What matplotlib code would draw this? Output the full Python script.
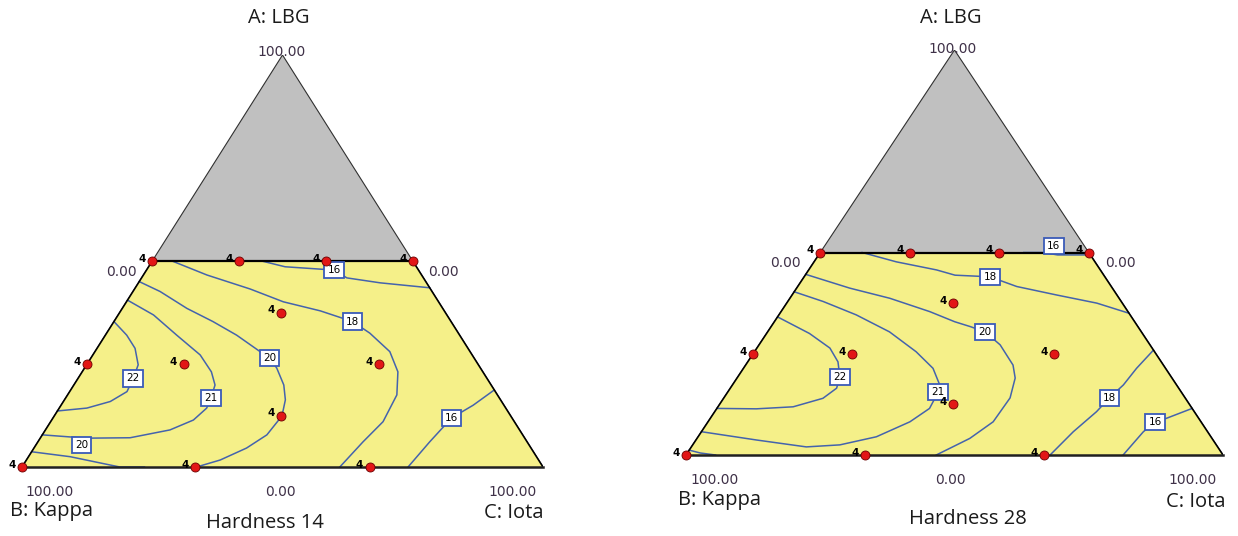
import numpy as np
import matplotlib.pyplot as plt
from matplotlib.patches import Polygon

plt.rcParams['font.family'] = ['Open Sans', 'DejaVu Sans']

W_PX, H_PX = 1238, 536

# mixture design (A: LBG and C: Iota in %, B: Kappa is the rest), 4 replicates each
design_a = [50, 50, 50, 50, 25, 25, 25, 37.5, 12.5, 0, 0, 0]
design_c = [0, 16.7, 33.3, 50, 0, 18.5, 56, 31, 43.5, 0, 33.3, 66.7]
design_reps = [4, 4, 4, 4, 4, 4, 4, 4, 4, 4, 4, 4]

# ---- Hardness 14: contour lines as (A %, C %) paths ----
h14_22_a = [35.3, 32.0, 28.8, 24.8, 21.5, 18.3, 15.9, 14.3, 13.6]
h14_22_c = [0, 4.1, 7.3, 9.9, 10.6, 11.0, 9.0, 5.3, 0]
h14_21_a = [40.5, 36.9, 32.0, 27.2, 23.1, 19.9, 16.7, 14.3, 11.4, 9.0, 7.1, 7.0, 7.8]
h14_21_c = [0, 6.8, 13.7, 20.6, 24.8, 27.1, 27.9, 28.3, 27.2, 23.9, 17.2, 8.9, 0]
h14_20a_a = [45.0, 42.6, 38.5, 35.3, 32.0, 28.0, 26.5, 24.0, 19.9, 16.3, 12.4, 7.8, 4.6, 1.7, 0]
h14_20a_c = [0, 5.2, 12.4, 19.0, 25.2, 31.7, 34.3, 36.9, 40.3, 42.4, 43.7, 43.1, 40.8, 37.2, 33.5]
h14_20b_a = [3.7, 2.5, 0.5, 0, 0]
h14_20b_c = [0, 8.0, 16.6, 18.8, 23.5]
h14_18_a = [50, 46.6, 43.2, 40.1, 37.9, 35.3, 32.5, 28.0, 23.1, 17.5, 11.0, 6.1, 0]
h14_18_c = [3.8, 12.2, 22.2, 30.1, 38.3, 45.8, 50.5, 56.6, 60.6, 63.2, 63.8, 62.4, 61.0]
h14_16a_a = [50, 48.6, 47.8, 45.9, 44.7, 43.5]
h14_16a_c = [21.0, 26.2, 36.0, 39.4, 46.4, 56.5]
h14_16b_a = [18.7, 15.0, 11.9, 6.1, 0]
h14_16b_c = [81.3, 79.1, 76.5, 75.2, 74.1]

h14_label_text = ['22', '21', '20', '20', '18', '16', '16']
h14_label_a = [21.5, 16.7, 26.5, 5.3, 35.3, 47.8, 11.9]
h14_label_c = [10.6, 27.9, 34.3, 8.8, 45.8, 36.0, 76.5]

# ---- Hardness 28 ----
h28_22_a = [34.1, 30.0, 26.4, 23.0, 19.3, 16.5, 14.0, 11.9, 11.4, 11.5]
h28_22_c = [0, 8.0, 13.6, 16.8, 19.0, 19.8, 18.5, 14.0, 7.4, 0]
h28_21_a = [40.3, 37.9, 34.6, 30.4, 25.5, 21.4, 17.3, 15.5, 11.5, 8.2, 4.5, 2.5, 2.0, 3.7, 5.75]
h28_21_c = [0, 6.6, 14.4, 22.7, 30.1, 35.3, 38.6, 39.2, 39.6, 37.6, 33.2, 27.4, 21.4, 11.3, 0]
h28_20a_a = [44.6, 41.2, 38.7, 35.4, 32.9, 31.7, 30.4, 27.2, 22.2, 19.0, 14.1, 8.2, 4.1, 1.65, 0]
h28_20a_c = [0, 9.9, 18.6, 27.7, 33.6, 37.1, 40.5, 44.9, 49.8, 51.8, 53.3, 53.1, 50.8, 48.3, 46.6]
h28_20b_a = [1.2, 0.5, 0]
h28_20b_c = [0, 2.4, 5.5]
h28_18a_a = [50, 47.7, 45.7, 44.4, 44.0, 41.6, 39.5, 37.5, 35.0]
h28_18a_c = [7.8, 15.3, 23.8, 27.9, 34.6, 40.8, 49.3, 57.75, 65.0]
h28_18b_a = [25.9, 21.4, 17.3, 14.15, 10.7, 5.75, 0]
h28_18b_c = [74.1, 73.2, 72.8, 71.8, 71.1, 69.25, 67.8]
h28_16a_a = [50, 50, 49.4, 49.4, 49.4]
h28_16a_c = [37.9, 41.5, 44.5, 48.0, 50.6]
h28_16b_a = [11.5, 9.1, 8.1, 5.75, 0]
h28_16b_c = [88.5, 85.0, 83.3, 82.3, 81.4]

h28_label_text = ['22', '21', '20', '18', '16', '18', '16']
h28_label_a = [19.3, 15.5, 30.4, 44.0, 51.6, 14.15, 8.1]
h28_label_c = [19.0, 39.2, 40.5, 34.6, 42.7, 71.8, 83.3]

LINE_BLUE = '#4463ad'
YELLOW = '#f5f089'
GREY = '#c0c0c0'
TICK_COLOR = '#3f3148'


def tern_xy(a, c):
    # A at the apex, B bottom left, C bottom right
    a = np.asarray(a, dtype=float) / 100.0
    c = np.asarray(c, dtype=float) / 100.0
    return c + a / 2.0, a


def draw_panel(ax, contours, lab_text, lab_a, lab_c):
    ax.set_xlim(0, 1)
    ax.set_ylim(0, 1)
    ax.axis('off')

    # whole simplex in grey, constrained region (A <= 50) in yellow
    tx, ty = tern_xy([100, 0, 0], [0, 0, 100])
    ax.add_patch(Polygon(np.column_stack([tx, ty]), closed=True, facecolor=GREY,
                         edgecolor='#303030', linewidth=0.8, zorder=1))
    rx, ry = tern_xy([0, 0, 50, 50], [0, 100, 50, 0])
    ax.add_patch(Polygon(np.column_stack([rx, ry]), closed=True, facecolor=YELLOW,
                         edgecolor='none', zorder=2))

    for ca, cc in contours:
        x, y = tern_xy(ca, cc)
        ax.plot(x, y, color=LINE_BLUE, linewidth=1.1, zorder=3, clip_on=False,
                solid_joinstyle='round')

    # region outline
    ex, ey = tern_xy([50, 0], [0, 0])
    ax.plot(ex, ey, color='black', linewidth=1.2, zorder=4)
    ex, ey = tern_xy([50, 0], [50, 100])
    ax.plot(ex, ey, color='black', linewidth=1.2, zorder=4)
    ex, ey = tern_xy([50, 50], [0, 50])
    ax.plot(ex, ey, color='black', linewidth=1.6, zorder=4)
    ex, ey = tern_xy([0, 0], [0, 100])
    ax.plot(ex, ey, color='#202020', linewidth=1.8, zorder=4, clip_on=False)

    for s, la, lc in zip(lab_text, lab_a, lab_c):
        x, y = tern_xy(la, lc)
        ax.text(x, y, s, ha='center', va='center', fontsize=7.5, color='black',
                family='DejaVu Sans', zorder=6,
                bbox=dict(boxstyle='square,pad=0.3', facecolor='white',
                          edgecolor='#3a5bb8', linewidth=1.3))

    px, py = tern_xy(design_a, design_c)
    ax.plot(px, py, 'o', markersize=6.5, markerfacecolor='#e21616',
            markeredgecolor='#6a0000', markeredgewidth=0.6, zorder=7, clip_on=False)
    for x, y, n in zip(px, py, design_reps):
        ax.annotate(str(n), (x, y), xytext=(-7.2, 1.6), textcoords='offset points',
                    ha='center', va='center', fontsize=7.5, fontweight='bold',
                    family='DejaVu Sans', color='black', zorder=8, annotation_clip=False)


fig = plt.figure(figsize=(W_PX / 100, H_PX / 100), dpi=100)


def put(px, py, s, **kw):
    fig.text(px / W_PX, 1 - py / H_PX, s, ha='center', va='center', **kw)


def axes_from_px(left, right, base, apex):
    return fig.add_axes([left / W_PX, 1 - base / H_PX, (right - left) / W_PX, (base - apex) / H_PX])


ax1 = axes_from_px(22, 543, 467, 55)
draw_panel(ax1,
           [(h14_22_a, h14_22_c), (h14_21_a, h14_21_c), (h14_20a_a, h14_20a_c),
            (h14_20b_a, h14_20b_c), (h14_18_a, h14_18_c), (h14_16a_a, h14_16a_c),
            (h14_16b_a, h14_16b_c)],
           h14_label_text, h14_label_a, h14_label_c)

ax2 = axes_from_px(686, 1223, 455, 50)
draw_panel(ax2,
           [(h28_22_a, h28_22_c), (h28_21_a, h28_21_c), (h28_20a_a, h28_20a_c),
            (h28_20b_a, h28_20b_c), (h28_18a_a, h28_18a_c), (h28_18b_a, h28_18b_c),
            (h28_16a_a, h28_16a_c), (h28_16b_a, h28_16b_c)],
           h28_label_text, h28_label_a, h28_label_c)

big = dict(fontsize=14.5, color='#1a1a1a')
tick = dict(fontsize=10, color=TICK_COLOR, family='DejaVu Sans')

# left plot texts
put(279, 18, 'A: LBG', **big)
put(282, 52, '100.00', **tick)
put(121, 272, '0.00', **tick)
put(443, 272, '0.00', **tick)
put(50, 492, '100.00', **tick)
put(280, 492, '0.00', **tick)
put(513, 492, '100.00', **tick)
put(51, 511, 'B: Kappa', **big)
put(514, 513, 'C: Iota', **big)
put(265, 523, 'Hardness 14', **big)

# right plot texts
put(951, 18, 'A: LBG', **big)
put(953, 49, '100.00', **tick)
put(785, 263, '0.00', **tick)
put(1120, 263, '0.00', **tick)
put(715, 480, '100.00', **tick)
put(950, 480, '0.00', **tick)
put(1193, 480, '100.00', **tick)
put(720, 500, 'B: Kappa', **big)
put(1196, 502, 'C: Iota', **big)
put(968, 519, 'Hardness 28', **big)

fig.savefig('out.png', dpi=100)
